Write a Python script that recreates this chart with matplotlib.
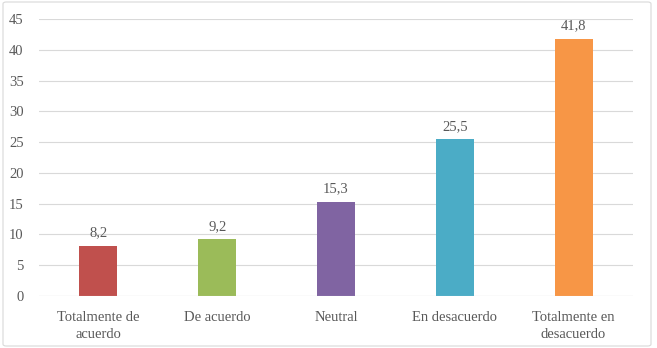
import matplotlib.pyplot as plt
from matplotlib.patches import FancyBboxPatch

categories = ['Totalmente de\nacuerdo', 'De acuerdo', 'Neutral', 'En desacuerdo', 'Totalmente en\ndesacuerdo']
values = [8.2, 9.2, 15.3, 25.5, 41.8]
labels = ['8,2', '9,2', '15,3', '25,5', '41,8']
colors = ['#C0504D', '#9BBB59', '#8064A2', '#4BACC6', '#F79646']

plt.rcParams['font.family'] = ['Liberation Serif', 'DejaVu Serif']
text_color = '#595959'

fig = plt.figure(figsize=(6.57, 3.48), dpi=100)
ax = fig.add_axes([39 / 657, 1 - 296 / 348, 594 / 657, 277 / 348])

x = range(len(categories))
ax.bar(x, values, width=0.32, color=colors, zorder=3)
for xi, v, lab in zip(x, values, labels):
    ax.text(xi, v + 1.0, lab, ha='center', va='bottom', fontsize=10.5, color=text_color)

ax.set_xlim(-0.5, 4.5)
ax.set_ylim(0, 45)
ax.set_yticks(range(0, 46, 5))
ax.set_xticks(list(x))
ax.set_xticklabels(categories, fontsize=10.5, color=text_color, linespacing=1.4)
ax.tick_params(axis='y', labelsize=10.5, labelcolor=text_color, length=0, pad=11)
ax.tick_params(axis='x', length=0, pad=11)
ax.grid(axis='y', color='#D9D9D9', linewidth=0.8, zorder=0)
for s in ax.spines.values():
    s.set_visible(False)
ax.axhline(0, color='#D9D9D9', linewidth=0.8, zorder=4)

border = FancyBboxPatch((3 / 657, 2 / 348), 648 / 657, 344 / 348,
                        boxstyle='round,pad=0,rounding_size=0.005',
                        transform=fig.transFigure, fill=False,
                        edgecolor='#D9D9D9', linewidth=0.8)
fig.patches.append(border)

fig.savefig('out.png', dpi=100)
